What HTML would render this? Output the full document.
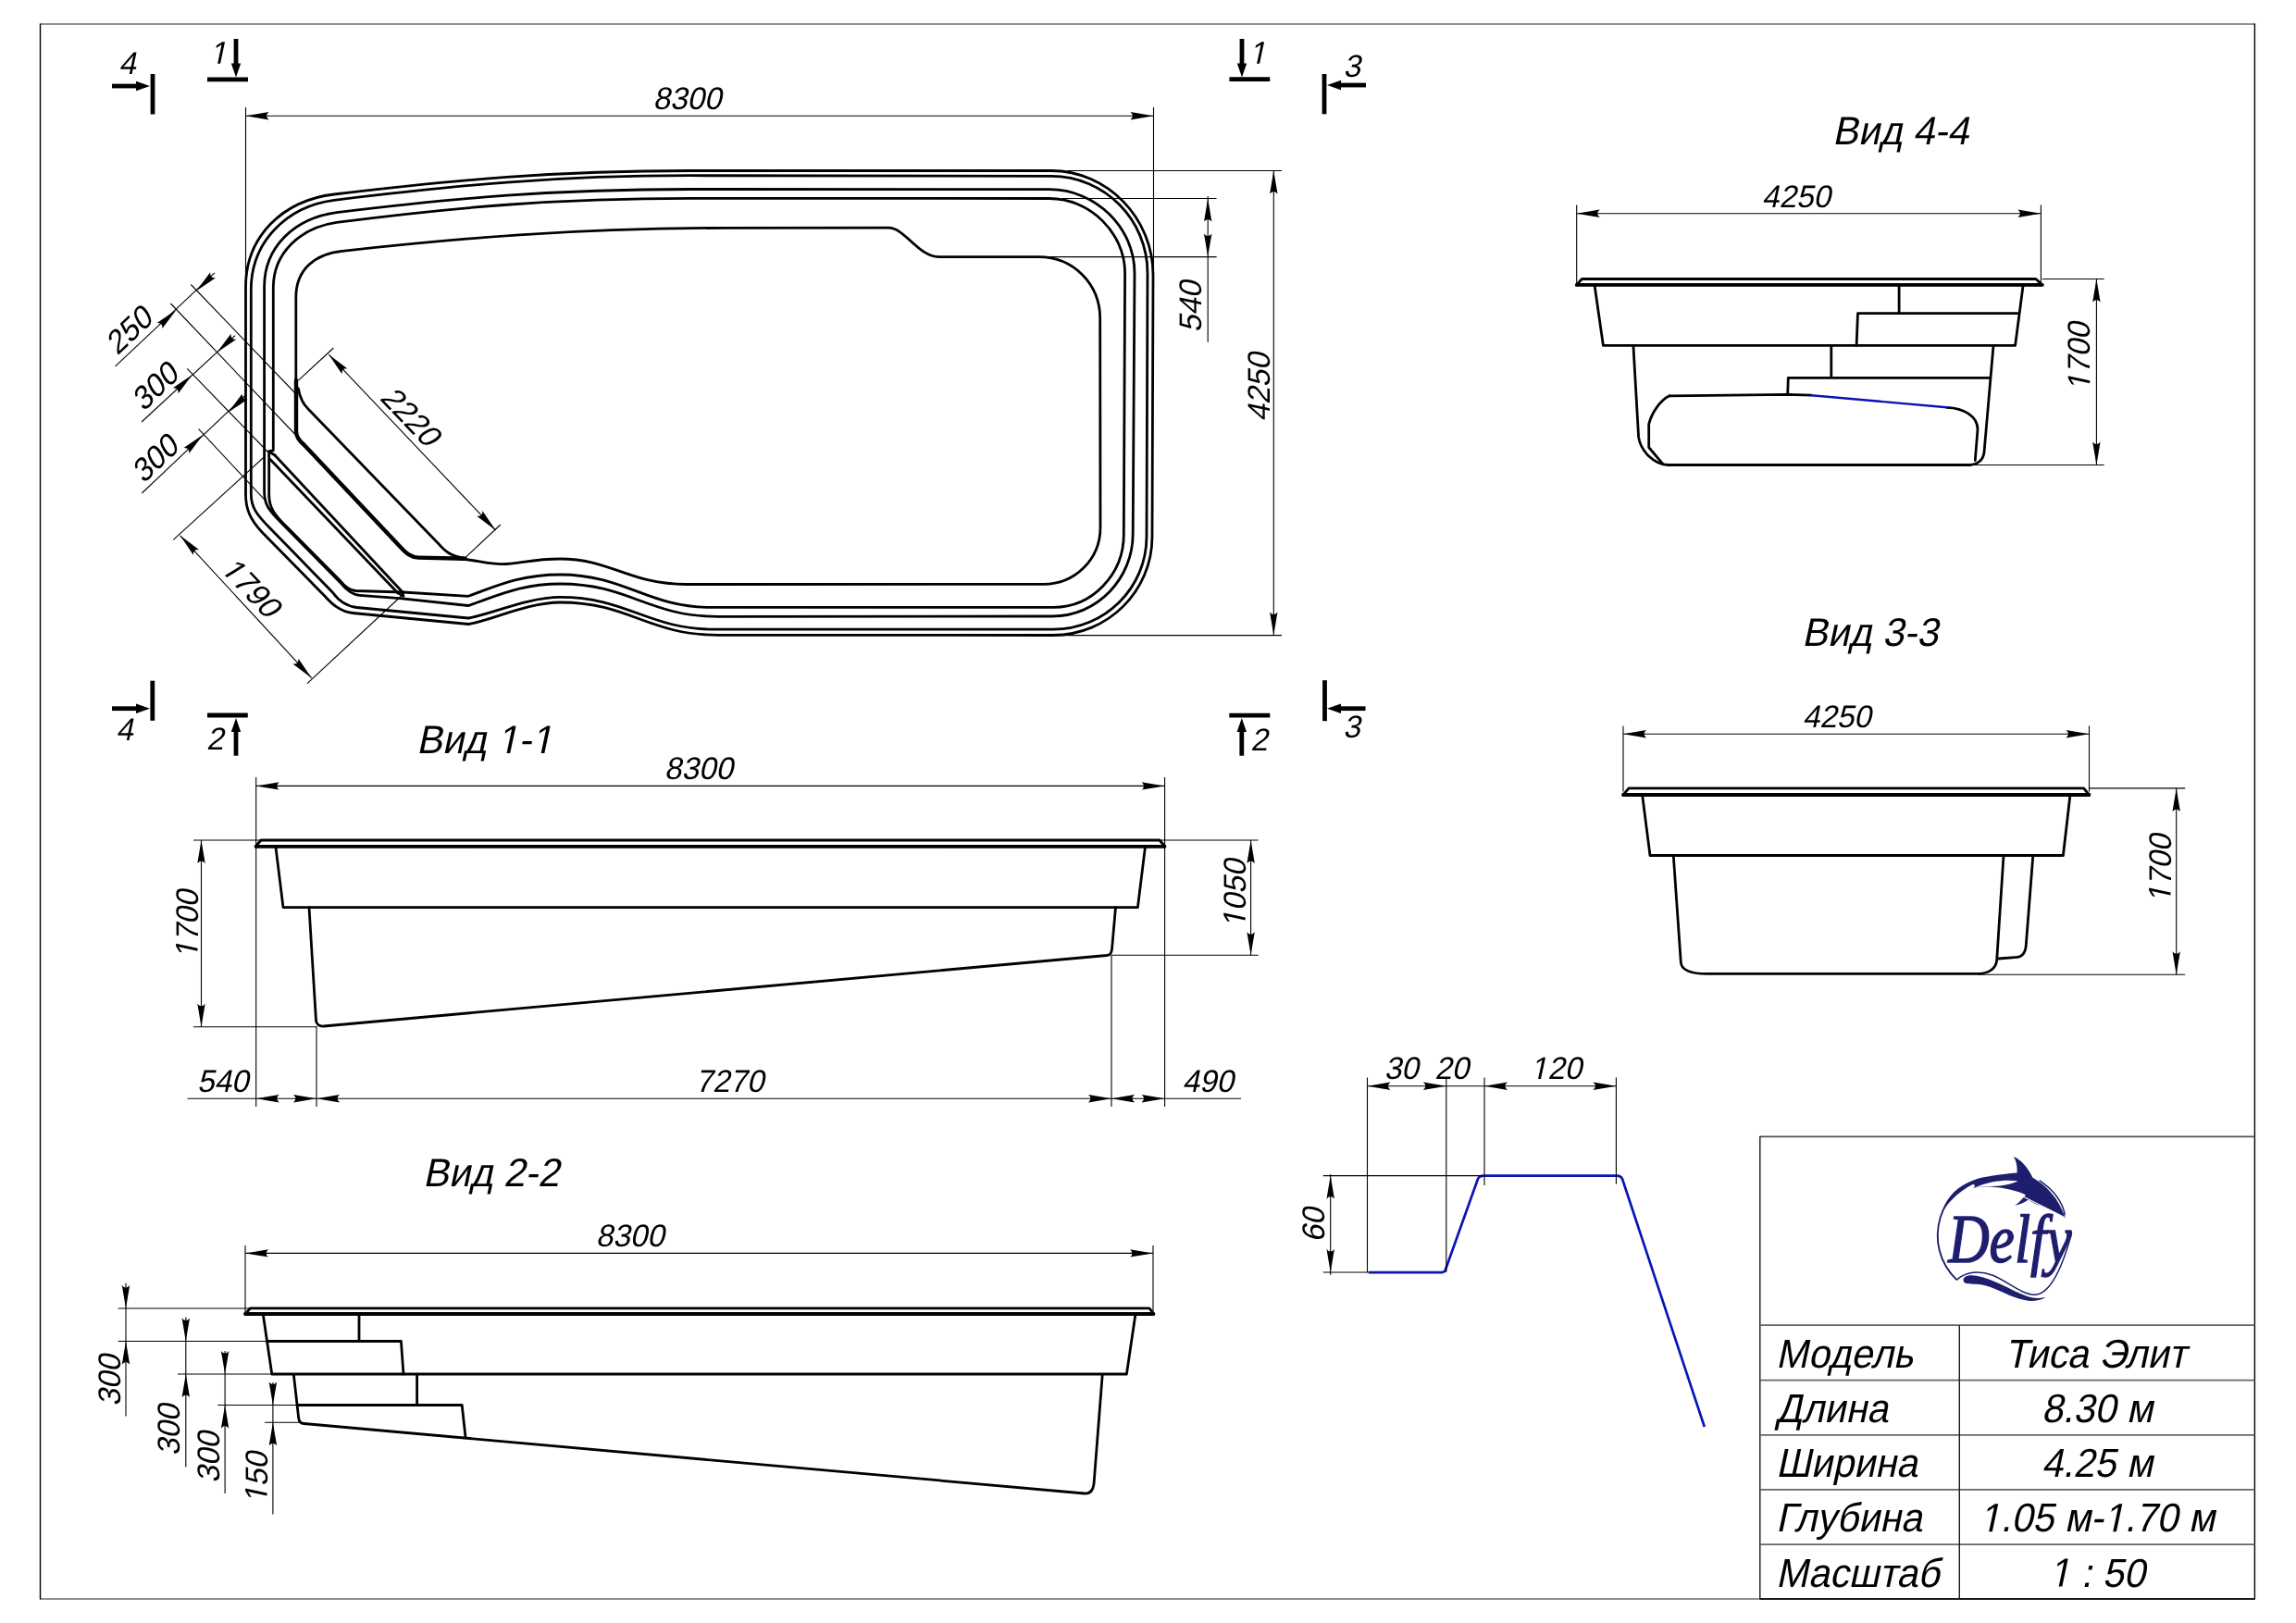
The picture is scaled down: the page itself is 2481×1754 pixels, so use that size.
<!DOCTYPE html>
<html><head><meta charset="utf-8"><style>
html,body{margin:0;padding:0;background:#fff;}
svg{display:block;will-change:transform;}
text{font-family:"Liberation Sans",sans-serif;}
</style></head><body>
<svg width="2481" height="1754" viewBox="0 0 2481 1754">
<rect width="2481" height="1754" fill="#fff"/>
<line x1="43.5" y1="26" x2="2436.4" y2="26" stroke="#6a6a6a" stroke-width="1.6" stroke-linecap="butt"/>
<line x1="43.5" y1="1728" x2="2436.4" y2="1728" stroke="#6a6a6a" stroke-width="1.6" stroke-linecap="butt"/>
<line x1="43.5" y1="25.5" x2="43.5" y2="1728.5" stroke="#000" stroke-width="1.4" stroke-linecap="butt"/>
<line x1="2436.4" y1="25.5" x2="2436.4" y2="1728.5" stroke="#000" stroke-width="1.4" stroke-linecap="butt"/>
<line x1="165" y1="80" x2="165" y2="123.5" stroke="#000" stroke-width="4.8" stroke-linecap="butt"/>
<line x1="121" y1="93" x2="150" y2="93" stroke="#000" stroke-width="4.8" stroke-linecap="butt"/>
<path d="M162,93 L147,98.2 L147,87.8 Z" fill="#000"/>
<g transform="translate(140,68) translate(-2.5,11.7) skewX(-12) scale(0.98,1)" fill="#000"><text x="-9.5" y="0" font-size="34">4</text></g>
<line x1="224" y1="85.8" x2="268" y2="85.8" stroke="#000" stroke-width="4.8" stroke-linecap="butt"/>
<line x1="255" y1="42" x2="255" y2="71.5" stroke="#000" stroke-width="4.8" stroke-linecap="butt"/>
<path d="M255,83.5 L249.8,68.5 L260.2,68.5 Z" fill="#000"/>
<g transform="translate(238.5,57) translate(-2.5,11.7) skewX(-12) scale(0.98,1)" fill="#000"><text x="-9.5" y="0" font-size="34"> </text><path transform="translate(-9.45,0) scale(0.01660,-0.01660)" d="M696,0 H515 V1237 L197,1010 V1180 L530,1409 H696 Z"/></g>
<line x1="1328.4" y1="85.7" x2="1372.2" y2="85.7" stroke="#000" stroke-width="4.8" stroke-linecap="butt"/>
<line x1="1342" y1="42" x2="1342" y2="71.5" stroke="#000" stroke-width="4.8" stroke-linecap="butt"/>
<path d="M1342,83.5 L1336.8,68.5 L1347.2,68.5 Z" fill="#000"/>
<g transform="translate(1361.5,57) translate(-2.5,11.7) skewX(-12) scale(0.98,1)" fill="#000"><text x="-9.5" y="0" font-size="34"> </text><path transform="translate(-9.45,0) scale(0.01660,-0.01660)" d="M696,0 H515 V1237 L197,1010 V1180 L530,1409 H696 Z"/></g>
<line x1="1431" y1="80" x2="1431" y2="123.3" stroke="#000" stroke-width="4.8" stroke-linecap="butt"/>
<line x1="1476" y1="92" x2="1446" y2="92" stroke="#000" stroke-width="4.8" stroke-linecap="butt"/>
<path d="M1434,92 L1449,86.8 L1449,97.2 Z" fill="#000"/>
<g transform="translate(1463.4,71.2) translate(-2.5,11.7) skewX(-12) scale(0.98,1)" fill="#000"><text x="-9.5" y="0" font-size="34">3</text></g>
<line x1="164.8" y1="735.7" x2="164.8" y2="778.8" stroke="#000" stroke-width="4.8" stroke-linecap="butt"/>
<line x1="121" y1="765.7" x2="150" y2="765.7" stroke="#000" stroke-width="4.8" stroke-linecap="butt"/>
<path d="M162,765.7 L147,770.9 L147,760.5 Z" fill="#000"/>
<g transform="translate(137,788) translate(-2.5,11.7) skewX(-12) scale(0.98,1)" fill="#000"><text x="-9.5" y="0" font-size="34">4</text></g>
<line x1="224" y1="773" x2="267.8" y2="773" stroke="#000" stroke-width="4.8" stroke-linecap="butt"/>
<line x1="255" y1="816.7" x2="255" y2="788" stroke="#000" stroke-width="4.8" stroke-linecap="butt"/>
<path d="M255,776 L260.2,791 L249.8,791 Z" fill="#000"/>
<g transform="translate(234.9,798.3) translate(-2.5,11.7) skewX(-12) scale(0.98,1)" fill="#000"><text x="-9.5" y="0" font-size="34">2</text></g>
<line x1="1328.3" y1="773.1" x2="1372.3" y2="773.1" stroke="#000" stroke-width="4.8" stroke-linecap="butt"/>
<line x1="1341.8" y1="816.7" x2="1341.8" y2="788" stroke="#000" stroke-width="4.8" stroke-linecap="butt"/>
<path d="M1341.8,776 L1347,791 L1336.6,791 Z" fill="#000"/>
<g transform="translate(1363,799.2) translate(-2.5,11.7) skewX(-12) scale(0.98,1)" fill="#000"><text x="-9.5" y="0" font-size="34">2</text></g>
<line x1="1431.5" y1="735.2" x2="1431.5" y2="779.2" stroke="#000" stroke-width="4.8" stroke-linecap="butt"/>
<line x1="1475.5" y1="765.7" x2="1446" y2="765.7" stroke="#000" stroke-width="4.8" stroke-linecap="butt"/>
<path d="M1434,765.7 L1449,760.5 L1449,770.9 Z" fill="#000"/>
<g transform="translate(1463,785.3) translate(-2.5,11.7) skewX(-12) scale(0.98,1)" fill="#000"><text x="-9.5" y="0" font-size="34">3</text></g>
<path d="M265.5,310 C265.5,255 306,216.6 361,210 C491,194.4 600,184.5 746,184.5 L1136,184.5 C1197,184.5 1246,236 1246,297 L1245,580 C1245,639 1197,686.5 1138,686.5 L776,686.3 C700,686.3 680,651 605.4,651 C570,651 530,671 506,674.5 L381,662.5 C367,661 358,652 351,644.2 L283,575 C270,561 265.5,550 265.5,534 Z" fill="none" stroke="#000" stroke-width="2.8" stroke-linejoin="round" stroke-linecap="round"/>
<path d="M271.3,313 C271.3,261 310,223 361,216.3 C491,200.5 600,189.7 746,189.7 L1136,190.4 C1194,190.4 1240,238 1240,295 L1239,580 C1239,635 1194,680.2 1138,680.2 L773,680.2 C700,680.2 678,645.4 605.4,645.4 C570,645.4 530,664 506,668 L385.6,656.5 C373,655 365,648 359.7,640.5 L292,571 C277,556 271.3,548 271.3,534 Z" fill="none" stroke="#000" stroke-width="2.8" stroke-linejoin="round" stroke-linecap="round"/>
<path d="M285.6,310 C285.6,267 318,236 363.7,229.7 C491,214 600,204.5 746,204.5 L1134,204.7 C1184,204.7 1226,246 1226,295 L1224.2,577 C1224.2,625 1186,666 1137,666 L776,666.3 C700,666.3 680,631 605.4,631 C562,631 535,645 506,654.5 L432,646.6 L388.5,643.3 C380,642.5 374,637 369.6,631.6 L305,566 C290,551 285.6,545 285.6,531.6 Z" fill="none" stroke="#000" stroke-width="2.8" stroke-linejoin="round" stroke-linecap="round"/>
<path d="M295.3,311 C295.3,273 325,246 363.7,240.4 C491,224 600,214.4 746,214.4 L1134,214.5 C1178,214.5 1215.6,252 1215.6,295 L1214.3,577.6 C1214.3,621 1180,656.4 1138.4,656.4 L767.5,656.4 C700,656.4 675,621 605.4,621 C560,621 535,634 506,644.3 L436,640 L384,638.5 C377,637.5 372,633 368,628 L310.5,570 C296,556 290.7,548 290.7,534.7 L290.7,487.6 L295.3,486.8 Z" fill="none" stroke="#000" stroke-width="2.8" stroke-linejoin="round" stroke-linecap="round"/>
<path d="M319.8,411 L319.8,321 C319.8,292 340,274 370,271.3 C491,258 620,246.4 786,246.4 L960,246.2 C978,246.2 992,277.6 1014.7,277.6 L1122.5,277.6 C1160,277.6 1188.7,307 1188.7,344.2 L1189,570 C1189,605 1161,631.4 1127.7,631.4 L741.3,631.5 C680,631.5 660,604 605.4,604 C575,604 560,609.7 542.7,609.7 C525,609.7 515,605 496,604" fill="none" stroke="#000" stroke-width="2.8" stroke-linejoin="round" stroke-linecap="round"/>
<path d="M320,411 L320,466.5 C320,472 323,476 328.8,481 L433,591.5 C439,598 444,602.4 452.2,602.6 L502.7,603.8" fill="none" stroke="#000" stroke-width="4.4" stroke-linejoin="round" stroke-linecap="round"/>
<path d="M322.4,420 C324,430 327,436 333,442 L473,586.7 C480,595 486,601 502.7,603.5" fill="none" stroke="#000" stroke-width="2.8" stroke-linejoin="round" stroke-linecap="round"/>
<path d="M292,496.5 L430,641" fill="none" stroke="#000" stroke-width="2.8" stroke-linejoin="round" stroke-linecap="round"/>
<path d="M297,492 L435,640" fill="none" stroke="#000" stroke-width="2.8" stroke-linejoin="round" stroke-linecap="round"/>
<path d="M290.7,488 L297,492" fill="none" stroke="#000" stroke-width="2.8" stroke-linejoin="round" stroke-linecap="round"/>
<path d="M430,641 L436,644.5 L435,640" fill="none" stroke="#000" stroke-width="2.6" stroke-linejoin="round" stroke-linecap="round"/>
<line x1="265.5" y1="116" x2="265.5" y2="300" stroke="#000" stroke-width="1.1" stroke-linecap="butt"/>
<line x1="1246.5" y1="116" x2="1246.5" y2="290" stroke="#000" stroke-width="1.1" stroke-linecap="butt"/>
<line x1="265.5" y1="125.3" x2="1246.5" y2="125.3" stroke="#000" stroke-width="1.1" stroke-linecap="butt"/>
<path d="M265.5,125.3 L290.5,121.1 Q285.5,125.3 290.5,129.5 Z" fill="#000"/>
<path d="M1246.5,125.3 L1221.5,129.5 Q1226.5,125.3 1221.5,121.1 Z" fill="#000"/>
<g transform="translate(745,106.5) translate(-2.5,11.7) skewX(-12) scale(0.98,1)" fill="#000"><text x="-37.8" y="0" font-size="34">8300</text></g>
<line x1="1153" y1="184.5" x2="1385" y2="184.5" stroke="#000" stroke-width="1.1" stroke-linecap="butt"/>
<line x1="1140" y1="686.6" x2="1385" y2="686.6" stroke="#000" stroke-width="1.1" stroke-linecap="butt"/>
<line x1="1376.3" y1="184.5" x2="1376.3" y2="686.6" stroke="#000" stroke-width="1.1" stroke-linecap="butt"/>
<path d="M1376.3,184.5 L1380.5,209.5 Q1376.3,204.5 1372.1,209.5 Z" fill="#000"/>
<path d="M1376.3,686.6 L1372.1,661.6 Q1376.3,666.6 1380.5,661.6 Z" fill="#000"/>
<g transform="translate(1360,416) rotate(-90) translate(-2.5,11.7) skewX(-12) scale(0.98,1)" fill="#000"><text x="-37.8" y="0" font-size="34">4250</text></g>
<line x1="1148" y1="214.5" x2="1314.6" y2="214.5" stroke="#000" stroke-width="1.1" stroke-linecap="butt"/>
<line x1="1122" y1="277.6" x2="1314.6" y2="277.6" stroke="#000" stroke-width="1.1" stroke-linecap="butt"/>
<line x1="1305.2" y1="212" x2="1305.2" y2="369.7" stroke="#000" stroke-width="1.1" stroke-linecap="butt"/>
<path d="M1305.2,214.5 L1309.4,239.5 Q1305.2,234.5 1301,239.5 Z" fill="#000"/>
<path d="M1305.2,277.6 L1301,252.6 Q1305.2,257.6 1309.4,252.6 Z" fill="#000"/>
<g transform="translate(1286.5,329) rotate(-90) translate(-2.5,11.7) skewX(-12) scale(0.98,1)" fill="#000"><text x="-28.4" y="0" font-size="34">540</text></g>
<line x1="206.3" y1="307.5" x2="322" y2="428" stroke="#000" stroke-width="1.1" stroke-linecap="butt"/>
<line x1="184.4" y1="328" x2="320.4" y2="471" stroke="#000" stroke-width="1.1" stroke-linecap="butt"/>
<line x1="202.3" y1="398.3" x2="290" y2="489" stroke="#000" stroke-width="1.1" stroke-linecap="butt"/>
<line x1="214.6" y1="463.6" x2="285.5" y2="539.6" stroke="#000" stroke-width="1.1" stroke-linecap="butt"/>
<line x1="124.6" y1="395.8" x2="231.9" y2="294.8" stroke="#000" stroke-width="1.1" stroke-linecap="butt"/>
<path d="M190.6,334.8 L175.4,355.1 Q176.1,348.6 169.6,349 Z" fill="#000"/>
<path d="M212,314.5 L227.2,294.2 Q226.5,300.7 233,300.3 Z" fill="#000"/>
<g transform="translate(140.7,355.4) rotate(-43.6) translate(-2.5,11.7) skewX(-12) scale(0.98,1)" fill="#000"><text x="-28.4" y="0" font-size="34">250</text></g>
<line x1="153" y1="456" x2="254" y2="362.6" stroke="#000" stroke-width="1.1" stroke-linecap="butt"/>
<path d="M207.8,405 L192.6,425.3 Q193.3,418.8 186.8,419.2 Z" fill="#000"/>
<path d="M234.3,381 L249.5,360.7 Q248.8,367.2 255.3,366.8 Z" fill="#000"/>
<g transform="translate(168.8,416) rotate(-43.6) translate(-2.5,11.7) skewX(-12) scale(0.98,1)" fill="#000"><text x="-28.4" y="0" font-size="34">300</text></g>
<line x1="153.3" y1="533" x2="264.2" y2="428" stroke="#000" stroke-width="1.1" stroke-linecap="butt"/>
<path d="M219.5,469.8 L204.3,490.1 Q205,483.6 198.5,484 Z" fill="#000"/>
<path d="M246.6,445.7 L261.8,425.4 Q261.1,431.9 267.6,431.5 Z" fill="#000"/>
<g transform="translate(168.8,493.8) rotate(-43.6) translate(-2.5,11.7) skewX(-12) scale(0.98,1)" fill="#000"><text x="-28.4" y="0" font-size="34">300</text></g>
<line x1="187.3" y1="583.3" x2="286.4" y2="493" stroke="#000" stroke-width="1.1" stroke-linecap="butt"/>
<line x1="332" y1="738.6" x2="433.7" y2="644" stroke="#000" stroke-width="1.1" stroke-linecap="butt"/>
<line x1="194.7" y1="578.8" x2="336.7" y2="732.7" stroke="#000" stroke-width="1.1" stroke-linecap="butt"/>
<path d="M194.7,578.8 L215,594 Q208.5,593.3 208.9,599.8 Z" fill="#000"/>
<path d="M336.7,732.7 L316.4,717.5 Q322.9,718.2 322.5,711.7 Z" fill="#000"/>
<g transform="translate(273,636.5) rotate(46.4) translate(-2.5,11.7) skewX(-12) scale(0.98,1)" fill="#000"><text x="-37.8" y="0" font-size="34"> 790</text><path transform="translate(-37.82,0) scale(0.01660,-0.01660)" d="M696,0 H515 V1237 L197,1010 V1180 L530,1409 H696 Z"/></g>
<line x1="322.4" y1="411.2" x2="360.4" y2="376" stroke="#000" stroke-width="1.1" stroke-linecap="butt"/>
<line x1="502.7" y1="602.7" x2="540.8" y2="567" stroke="#000" stroke-width="1.1" stroke-linecap="butt"/>
<line x1="355.3" y1="383.2" x2="535.5" y2="573" stroke="#000" stroke-width="1.1" stroke-linecap="butt"/>
<path d="M355.3,383.2 L375.6,398.4 Q369.1,397.7 369.5,404.2 Z" fill="#000"/>
<path d="M535.5,573 L515.2,557.8 Q521.7,558.5 521.3,552 Z" fill="#000"/>
<g transform="translate(445.3,451.5) rotate(46.4) translate(-2.5,11.7) skewX(-12) scale(0.98,1)" fill="#000"><text x="-37.8" y="0" font-size="34">2220</text></g>
<g transform="translate(450,814) skewX(-12) scale(0.97,1)"><text x="0" y="0" font-size="43">Вид  - </text><path transform="translate(89.74,0) scale(0.02100,-0.02100)" d="M696,0 H515 V1237 L197,1010 V1180 L530,1409 H696 Z"/><path transform="translate(127.97,0) scale(0.02100,-0.02100)" d="M696,0 H515 V1237 L197,1010 V1180 L530,1409 H696 Z"/></g>
<line x1="276.7" y1="840" x2="276.7" y2="1196" stroke="#000" stroke-width="1.1" stroke-linecap="butt"/>
<line x1="1258.6" y1="840" x2="1258.6" y2="1196" stroke="#000" stroke-width="1.1" stroke-linecap="butt"/>
<line x1="276.7" y1="849.4" x2="1258.6" y2="849.4" stroke="#000" stroke-width="1.1" stroke-linecap="butt"/>
<path d="M276.7,849.4 L301.7,845.2 Q296.7,849.4 301.7,853.6 Z" fill="#000"/>
<path d="M1258.6,849.4 L1233.6,853.6 Q1238.6,849.4 1233.6,845.2 Z" fill="#000"/>
<g transform="translate(757.4,830.5) translate(-2.5,11.7) skewX(-12) scale(0.98,1)" fill="#000"><text x="-37.8" y="0" font-size="34">8300</text></g>
<path d="M276.5,914.5 L282,908 L1253,908 L1258.5,914.5 Z" fill="none" stroke="#000" stroke-width="2.8" stroke-linejoin="round" stroke-linecap="round"/>
<path d="M276.5,914.8 L1258.5,914.8" fill="none" stroke="#000" stroke-width="3.8" stroke-linejoin="round" stroke-linecap="round"/>
<path d="M298,915.8 L306,980.7 L1229.4,980.7 L1237.4,915.8" fill="none" stroke="#000" stroke-width="2.8" stroke-linejoin="round" stroke-linecap="round"/>
<path d="M334,980.7 L341.5,1103 C342,1107 345,1109.5 349.9,1109 L1196,1032.5 C1200,1032 1201,1030 1201.5,1026 L1205.5,980.7" fill="none" stroke="#000" stroke-width="2.8" stroke-linejoin="round" stroke-linecap="round"/>
<line x1="209" y1="908" x2="282" y2="908" stroke="#000" stroke-width="1.1" stroke-linecap="butt"/>
<line x1="209" y1="1109.8" x2="342" y2="1109.8" stroke="#000" stroke-width="1.1" stroke-linecap="butt"/>
<line x1="217.5" y1="908" x2="217.5" y2="1109.8" stroke="#000" stroke-width="1.1" stroke-linecap="butt"/>
<path d="M217.5,908 L221.7,933 Q217.5,928 213.3,933 Z" fill="#000"/>
<path d="M217.5,1109.8 L213.3,1084.8 Q217.5,1089.8 221.7,1084.8 Z" fill="#000"/>
<g transform="translate(201.8,996.5) rotate(-90) translate(-2.5,11.7) skewX(-12) scale(0.98,1)" fill="#000"><text x="-37.8" y="0" font-size="34"> 700</text><path transform="translate(-37.82,0) scale(0.01660,-0.01660)" d="M696,0 H515 V1237 L197,1010 V1180 L530,1409 H696 Z"/></g>
<line x1="1253" y1="908" x2="1359.6" y2="908" stroke="#000" stroke-width="1.1" stroke-linecap="butt"/>
<line x1="1201" y1="1032.2" x2="1359.6" y2="1032.2" stroke="#000" stroke-width="1.1" stroke-linecap="butt"/>
<line x1="1351.6" y1="908" x2="1351.6" y2="1032.2" stroke="#000" stroke-width="1.1" stroke-linecap="butt"/>
<path d="M1351.6,908 L1355.8,933 Q1351.6,928 1347.4,933 Z" fill="#000"/>
<path d="M1351.6,1032.2 L1347.4,1007.2 Q1351.6,1012.2 1355.8,1007.2 Z" fill="#000"/>
<g transform="translate(1334,963.3) rotate(-90) translate(-2.5,11.7) skewX(-12) scale(0.98,1)" fill="#000"><text x="-37.8" y="0" font-size="34"> 050</text><path transform="translate(-37.82,0) scale(0.01660,-0.01660)" d="M696,0 H515 V1237 L197,1010 V1180 L530,1409 H696 Z"/></g>
<line x1="342" y1="1109" x2="342" y2="1196" stroke="#000" stroke-width="1.1" stroke-linecap="butt"/>
<line x1="1201" y1="1032" x2="1201" y2="1196" stroke="#000" stroke-width="1.1" stroke-linecap="butt"/>
<line x1="202.5" y1="1187.2" x2="1341" y2="1187.2" stroke="#000" stroke-width="1.1" stroke-linecap="butt"/>
<path d="M276.7,1187.2 L301.7,1183 Q296.7,1187.2 301.7,1191.4 Z" fill="#000"/>
<path d="M342,1187.2 L317,1191.4 Q322,1187.2 317,1183 Z" fill="#000"/>
<path d="M342,1187.2 L367,1183 Q362,1187.2 367,1191.4 Z" fill="#000"/>
<path d="M1201,1187.2 L1176,1191.4 Q1181,1187.2 1176,1183 Z" fill="#000"/>
<path d="M1201,1187.2 L1226,1183 Q1221,1187.2 1226,1191.4 Z" fill="#000"/>
<path d="M1258.6,1187.2 L1233.6,1191.4 Q1238.6,1187.2 1233.6,1183 Z" fill="#000"/>
<g transform="translate(243.4,1168.2) translate(-2.5,11.7) skewX(-12) scale(0.98,1)" fill="#000"><text x="-28.4" y="0" font-size="34">540</text></g>
<g transform="translate(791,1168.2) translate(-2.5,11.7) skewX(-12) scale(0.98,1)" fill="#000"><text x="-37.8" y="0" font-size="34">7270</text></g>
<g transform="translate(1307.8,1168.2) translate(-2.5,11.7) skewX(-12) scale(0.98,1)" fill="#000"><text x="-28.4" y="0" font-size="34">490</text></g>
<g transform="translate(457,1282) skewX(-12) scale(0.97,1)"><text x="0" y="0" font-size="43">Вид 2-2</text></g>
<line x1="265" y1="1346" x2="265" y2="1420" stroke="#000" stroke-width="1.1" stroke-linecap="butt"/>
<line x1="1246" y1="1346" x2="1246" y2="1420" stroke="#000" stroke-width="1.1" stroke-linecap="butt"/>
<line x1="265" y1="1354.4" x2="1246" y2="1354.4" stroke="#000" stroke-width="1.1" stroke-linecap="butt"/>
<path d="M265,1354.4 L290,1350.2 Q285,1354.4 290,1358.6 Z" fill="#000"/>
<path d="M1246,1354.4 L1221,1358.6 Q1226,1354.4 1221,1350.2 Z" fill="#000"/>
<g transform="translate(683.2,1335) translate(-2.5,11.7) skewX(-12) scale(0.98,1)" fill="#000"><text x="-37.8" y="0" font-size="34">8300</text></g>
<path d="M265,1420 L270.5,1413.8 L1242,1413.8 L1246.5,1420 Z" fill="none" stroke="#000" stroke-width="2.8" stroke-linejoin="round" stroke-linecap="round"/>
<path d="M265,1420 L1246.5,1420" fill="none" stroke="#000" stroke-width="3.8" stroke-linejoin="round" stroke-linecap="round"/>
<path d="M284.4,1421.3 L293.8,1485 L1217.4,1485 L1226.8,1421.3" fill="none" stroke="#000" stroke-width="2.8" stroke-linejoin="round" stroke-linecap="round"/>
<path d="M388,1421.3 L388,1449.5 M288.6,1449.5 L433.4,1449.5 L436,1485" fill="none" stroke="#000" stroke-width="2.8" stroke-linejoin="round" stroke-linecap="round"/>
<path d="M317.4,1486 L322.6,1532 C323,1536 325,1538.5 328.5,1538.5 L1172,1614 C1178,1614.5 1181,1611 1182,1604 L1191.2,1486" fill="none" stroke="#000" stroke-width="2.8" stroke-linejoin="round" stroke-linecap="round"/>
<path d="M450.6,1486 L450.6,1518.5 M322,1518.5 L499.2,1518.5 L503,1553" fill="none" stroke="#000" stroke-width="2.8" stroke-linejoin="round" stroke-linecap="round"/>
<line x1="127.6" y1="1414" x2="270" y2="1414" stroke="#000" stroke-width="1.1" stroke-linecap="butt"/>
<line x1="127.6" y1="1449.5" x2="290" y2="1449.5" stroke="#000" stroke-width="1.1" stroke-linecap="butt"/>
<line x1="192" y1="1485" x2="294" y2="1485" stroke="#000" stroke-width="1.1" stroke-linecap="butt"/>
<line x1="235.3" y1="1518.5" x2="322" y2="1518.5" stroke="#000" stroke-width="1.1" stroke-linecap="butt"/>
<line x1="286" y1="1537.3" x2="327" y2="1537.3" stroke="#000" stroke-width="1.1" stroke-linecap="butt"/>
<line x1="136" y1="1386.8" x2="136" y2="1530.5" stroke="#000" stroke-width="1.1" stroke-linecap="butt"/>
<path d="M136,1414 L131.8,1389 Q136,1394 140.2,1389 Z" fill="#000"/>
<path d="M136,1449.5 L140.2,1474.5 Q136,1469.5 131.8,1474.5 Z" fill="#000"/>
<line x1="200.8" y1="1423.4" x2="200.8" y2="1585.4" stroke="#000" stroke-width="1.1" stroke-linecap="butt"/>
<path d="M200.8,1449.5 L196.6,1424.5 Q200.8,1429.5 205,1424.5 Z" fill="#000"/>
<path d="M200.8,1485 L205,1510 Q200.8,1505 196.6,1510 Z" fill="#000"/>
<line x1="243.1" y1="1460" x2="243.1" y2="1614" stroke="#000" stroke-width="1.1" stroke-linecap="butt"/>
<path d="M243.1,1485 L238.9,1460 Q243.1,1465 247.3,1460 Z" fill="#000"/>
<path d="M243.1,1518.5 L247.3,1543.5 Q243.1,1538.5 238.9,1543.5 Z" fill="#000"/>
<line x1="294.9" y1="1494" x2="294.9" y2="1636.6" stroke="#000" stroke-width="1.1" stroke-linecap="butt"/>
<path d="M294.9,1518.5 L290.7,1493.5 Q294.9,1498.5 299.1,1493.5 Z" fill="#000"/>
<path d="M294.9,1537.3 L299.1,1562.3 Q294.9,1557.3 290.7,1562.3 Z" fill="#000"/>
<g transform="translate(118.2,1489.5) rotate(-90) translate(-2.5,11.7) skewX(-12) scale(0.98,1)" fill="#000"><text x="-28.4" y="0" font-size="34">300</text></g>
<g transform="translate(182,1543) rotate(-90) translate(-2.5,11.7) skewX(-12) scale(0.98,1)" fill="#000"><text x="-28.4" y="0" font-size="34">300</text></g>
<g transform="translate(225.1,1572.5) rotate(-90) translate(-2.5,11.7) skewX(-12) scale(0.98,1)" fill="#000"><text x="-28.4" y="0" font-size="34">300</text></g>
<g transform="translate(276.8,1594.5) rotate(-90) translate(-2.5,11.7) skewX(-12) scale(0.98,1)" fill="#000"><text x="-28.4" y="0" font-size="34"> 50</text><path transform="translate(-28.36,0) scale(0.01660,-0.01660)" d="M696,0 H515 V1237 L197,1010 V1180 L530,1409 H696 Z"/></g>
<g transform="translate(1980,156) skewX(-12) scale(0.97,1)"><text x="0" y="0" font-size="43">Вид 4-4</text></g>
<line x1="1703.7" y1="221.5" x2="1703.7" y2="306.5" stroke="#000" stroke-width="1.1" stroke-linecap="butt"/>
<line x1="2205.4" y1="221.5" x2="2205.4" y2="306.5" stroke="#000" stroke-width="1.1" stroke-linecap="butt"/>
<line x1="1703.7" y1="230.7" x2="2205.4" y2="230.7" stroke="#000" stroke-width="1.1" stroke-linecap="butt"/>
<path d="M1703.7,230.7 L1728.7,226.5 Q1723.7,230.7 1728.7,234.9 Z" fill="#000"/>
<path d="M2205.4,230.7 L2180.4,234.9 Q2185.4,230.7 2180.4,226.5 Z" fill="#000"/>
<g transform="translate(1943.4,211.8) translate(-2.5,11.7) skewX(-12) scale(0.98,1)" fill="#000"><text x="-37.8" y="0" font-size="34">4250</text></g>
<path d="M1703.7,307.9 L1709.3,301.5 L2199.9,301.5 L2206.8,307.9 Z" fill="none" stroke="#000" stroke-width="2.8" stroke-linejoin="round" stroke-linecap="round"/>
<path d="M1703.7,307.9 L2206.8,307.9" fill="none" stroke="#000" stroke-width="3.8" stroke-linejoin="round" stroke-linecap="round"/>
<path d="M1723.2,309.3 L1732.4,373.4 L2177.6,373.4 L2186,309.3" fill="none" stroke="#000" stroke-width="2.8" stroke-linejoin="round" stroke-linecap="round"/>
<path d="M2052.1,309.3 L2052.1,338.6 M2006.1,373.4 L2007.5,338.6 L2180.3,338.6" fill="none" stroke="#000" stroke-width="2.8" stroke-linejoin="round" stroke-linecap="round"/>
<path d="M1765,374.8 L1770.6,472.4 C1773,488 1788,502.5 1802.6,502.5 L2128.8,502.5 C2137,502 2143,497 2144,489 L2153.9,374.8" fill="none" stroke="#000" stroke-width="2.8" stroke-linejoin="round" stroke-linecap="round"/>
<path d="M1978.8,374.8 L1978.8,408.3 M1931.7,426.4 L1932.3,408.3 L2149.7,408.3" fill="none" stroke="#000" stroke-width="2.8" stroke-linejoin="round" stroke-linecap="round"/>
<path d="M1804,427.8 L1931.7,426.4 L1957.4,427.2" fill="none" stroke="#000" stroke-width="2.8" stroke-linejoin="round" stroke-linecap="round"/>
<path d="M2103.7,440.3 C2122,441 2137,450 2137,464 L2134.3,497.5" fill="none" stroke="#000" stroke-width="2.8" stroke-linejoin="round" stroke-linecap="round"/>
<path d="M1804,427.8 C1795,432 1785,445 1781.7,458.4 L1781.7,483.5 L1797,501.6" fill="none" stroke="#000" stroke-width="2.8" stroke-linejoin="round" stroke-linecap="round"/>
<path d="M1957.4,427.2 L2103.7,440.3" fill="none" stroke="#0a14b4" stroke-width="2.4" stroke-linejoin="round" stroke-linecap="round"/>
<line x1="2206.8" y1="301.5" x2="2273.7" y2="301.5" stroke="#000" stroke-width="1.1" stroke-linecap="butt"/>
<line x1="2128.8" y1="502.5" x2="2273.7" y2="502.5" stroke="#000" stroke-width="1.1" stroke-linecap="butt"/>
<line x1="2265.4" y1="301.5" x2="2265.4" y2="502.5" stroke="#000" stroke-width="1.1" stroke-linecap="butt"/>
<path d="M2265.4,301.5 L2269.6,326.5 Q2265.4,321.5 2261.2,326.5 Z" fill="#000"/>
<path d="M2265.4,502.5 L2261.2,477.5 Q2265.4,482.5 2269.6,477.5 Z" fill="#000"/>
<g transform="translate(2246.5,383) rotate(-90) translate(-2.5,11.7) skewX(-12) scale(0.98,1)" fill="#000"><text x="-37.8" y="0" font-size="34"> 700</text><path transform="translate(-37.82,0) scale(0.01660,-0.01660)" d="M696,0 H515 V1237 L197,1010 V1180 L530,1409 H696 Z"/></g>
<g transform="translate(1947,698) skewX(-12) scale(0.97,1)"><text x="0" y="0" font-size="43">Вид 3-3</text></g>
<line x1="1754" y1="784.4" x2="1754" y2="855.5" stroke="#000" stroke-width="1.1" stroke-linecap="butt"/>
<line x1="2257.5" y1="784.4" x2="2257.5" y2="855.5" stroke="#000" stroke-width="1.1" stroke-linecap="butt"/>
<line x1="1754" y1="793.3" x2="2257.5" y2="793.3" stroke="#000" stroke-width="1.1" stroke-linecap="butt"/>
<path d="M1754,793.3 L1779,789.1 Q1774,793.3 1779,797.5 Z" fill="#000"/>
<path d="M2257.5,793.3 L2232.5,797.5 Q2237.5,793.3 2232.5,789.1 Z" fill="#000"/>
<g transform="translate(1987.3,774) translate(-2.5,11.7) skewX(-12) scale(0.98,1)" fill="#000"><text x="-37.8" y="0" font-size="34">4250</text></g>
<path d="M1754,859 L1760,851.9 L2251.6,851.9 L2257.5,859 Z" fill="none" stroke="#000" stroke-width="2.8" stroke-linejoin="round" stroke-linecap="round"/>
<path d="M1754,859 L2257.5,859" fill="none" stroke="#000" stroke-width="3.8" stroke-linejoin="round" stroke-linecap="round"/>
<path d="M1774.8,860.5 L1783,924.5 L2229.4,924.5 L2236.8,860.5" fill="none" stroke="#000" stroke-width="2.8" stroke-linejoin="round" stroke-linecap="round"/>
<path d="M1808.3,925 L1816.3,1040 C1817,1049 1828,1052.4 1844.4,1052.4 L2137.6,1052.4 C2150,1052 2157,1046 2157.7,1037.6 L2165,925" fill="none" stroke="#000" stroke-width="2.8" stroke-linejoin="round" stroke-linecap="round"/>
<path d="M2196.8,925 L2189.4,1020 C2189,1030 2185,1034.6 2177.6,1034.6 L2159.8,1036" fill="none" stroke="#000" stroke-width="2.8" stroke-linejoin="round" stroke-linecap="round"/>
<line x1="2257.5" y1="851.9" x2="2361.2" y2="851.9" stroke="#000" stroke-width="1.1" stroke-linecap="butt"/>
<line x1="2137.6" y1="1053.3" x2="2361.2" y2="1053.3" stroke="#000" stroke-width="1.1" stroke-linecap="butt"/>
<line x1="2351.7" y1="851.9" x2="2351.7" y2="1053.3" stroke="#000" stroke-width="1.1" stroke-linecap="butt"/>
<path d="M2351.7,851.9 L2355.9,876.9 Q2351.7,871.9 2347.5,876.9 Z" fill="#000"/>
<path d="M2351.7,1053.3 L2347.5,1028.3 Q2351.7,1033.3 2355.9,1028.3 Z" fill="#000"/>
<g transform="translate(2333.8,936.2) rotate(-90) translate(-2.5,11.7) skewX(-12) scale(0.98,1)" fill="#000"><text x="-37.8" y="0" font-size="34"> 700</text><path transform="translate(-37.82,0) scale(0.01660,-0.01660)" d="M696,0 H515 V1237 L197,1010 V1180 L530,1409 H696 Z"/></g>
<path d="M1478.8,1375.1 L1558,1375.1 C1560,1375.1 1561.5,1374 1562,1372 L1597,1274 C1598,1271.5 1600,1270.6 1603,1270.6 L1748,1270.6 C1750.5,1270.6 1752,1272 1753,1274 L1841.8,1542" fill="none" stroke="#0a14b4" stroke-width="2.7" stroke-linejoin="round" stroke-linecap="butt"/>
<line x1="1477.5" y1="1164.5" x2="1477.5" y2="1375" stroke="#000" stroke-width="1.1" stroke-linecap="butt"/>
<line x1="1562.8" y1="1164.5" x2="1562.8" y2="1375" stroke="#000" stroke-width="1.1" stroke-linecap="butt"/>
<line x1="1604" y1="1164.5" x2="1604" y2="1281" stroke="#000" stroke-width="1.1" stroke-linecap="butt"/>
<line x1="1746.4" y1="1164.5" x2="1746.4" y2="1279.7" stroke="#000" stroke-width="1.1" stroke-linecap="butt"/>
<line x1="1477.5" y1="1173.7" x2="1746.4" y2="1173.7" stroke="#000" stroke-width="1.1" stroke-linecap="butt"/>
<path d="M1477.5,1173.7 L1502.5,1169.5 Q1497.5,1173.7 1502.5,1177.9 Z" fill="#000"/>
<path d="M1562.8,1173.7 L1537.8,1177.9 Q1542.8,1173.7 1537.8,1169.5 Z" fill="#000"/>
<path d="M1604,1173.7 L1629,1169.5 Q1624,1173.7 1629,1177.9 Z" fill="#000"/>
<path d="M1746.4,1173.7 L1721.4,1177.9 Q1726.4,1173.7 1721.4,1169.5 Z" fill="#000"/>
<g transform="translate(1516.7,1154.4) translate(-2.5,11.7) skewX(-12) scale(0.98,1)" fill="#000"><text x="-18.9" y="0" font-size="34">30</text></g>
<g transform="translate(1571.2,1154.4) translate(-2.5,11.7) skewX(-12) scale(0.98,1)" fill="#000"><text x="-18.9" y="0" font-size="34">20</text></g>
<g transform="translate(1684,1154.4) translate(-2.5,11.7) skewX(-12) scale(0.98,1)" fill="#000"><text x="-28.4" y="0" font-size="34"> 20</text><path transform="translate(-28.36,0) scale(0.01660,-0.01660)" d="M696,0 H515 V1237 L197,1010 V1180 L530,1409 H696 Z"/></g>
<line x1="1429.8" y1="1270.6" x2="1602" y2="1270.6" stroke="#000" stroke-width="1.1" stroke-linecap="butt"/>
<line x1="1429.8" y1="1375" x2="1478.8" y2="1375" stroke="#000" stroke-width="1.1" stroke-linecap="butt"/>
<line x1="1437.7" y1="1269" x2="1437.7" y2="1377.8" stroke="#000" stroke-width="1.1" stroke-linecap="butt"/>
<path d="M1437.7,1270.6 L1441.9,1295.6 Q1437.7,1290.6 1433.5,1295.6 Z" fill="#000"/>
<path d="M1437.7,1375 L1433.5,1350 Q1437.7,1355 1441.9,1350 Z" fill="#000"/>
<g transform="translate(1419,1321.5) rotate(-90) translate(-2.5,11.7) skewX(-12) scale(0.98,1)" fill="#000"><text x="-18.9" y="0" font-size="34">60</text></g>
<line x1="1901.8" y1="1228.4" x2="2436.4" y2="1228.4" stroke="#555" stroke-width="1.7" stroke-linecap="butt"/>
<line x1="1901.8" y1="1228" x2="1901.8" y2="1728.5" stroke="#1a1a1a" stroke-width="1.4" stroke-linecap="butt"/>
<line x1="1901.8" y1="1432.2" x2="2436.4" y2="1432.2" stroke="#666" stroke-width="1.7" stroke-linecap="butt"/>
<line x1="1901.8" y1="1491.6" x2="2436.4" y2="1491.6" stroke="#666" stroke-width="1.7" stroke-linecap="butt"/>
<line x1="1901.8" y1="1550.9" x2="2436.4" y2="1550.9" stroke="#666" stroke-width="1.7" stroke-linecap="butt"/>
<line x1="1901.8" y1="1609.9" x2="2436.4" y2="1609.9" stroke="#666" stroke-width="1.7" stroke-linecap="butt"/>
<line x1="1901.8" y1="1669.2" x2="2436.4" y2="1669.2" stroke="#666" stroke-width="1.7" stroke-linecap="butt"/>
<line x1="2117.3" y1="1432.2" x2="2117.3" y2="1728" stroke="#1a1a1a" stroke-width="1.4" stroke-linecap="butt"/>
<line x1="1901.8" y1="1728" x2="2436.4" y2="1728" stroke="#1a1a1a" stroke-width="1.8" stroke-linecap="butt"/>
<g transform="translate(1919,1477.5) skewX(-12) scale(0.95,1)"><text x="0" y="0" font-size="43.5">Модель</text></g>
<g transform="translate(2266,1477.5) skewX(-12) scale(0.95,1)"><text x="-104.9" y="0" font-size="43.5">Тиса Элит</text></g>
<g transform="translate(1919,1536.9) skewX(-12) scale(0.95,1)"><text x="0" y="0" font-size="43.5">Длина</text></g>
<g transform="translate(2266,1536.9) skewX(-12) scale(0.95,1)"><text x="-63.3" y="0" font-size="43.5">8.30 м</text></g>
<g transform="translate(1919,1596.2) skewX(-12) scale(0.95,1)"><text x="0" y="0" font-size="43.5">Ширина</text></g>
<g transform="translate(2266,1596.2) skewX(-12) scale(0.95,1)"><text x="-63.3" y="0" font-size="43.5">4.25 м</text></g>
<g transform="translate(1919,1655.2) skewX(-12) scale(0.95,1)"><text x="0" y="0" font-size="43.5">Глубина</text></g>
<g transform="translate(2266,1655.2) skewX(-12) scale(0.95,1)"><text x="-133.9" y="0" font-size="43.5"> .05 м- .70 м</text><path transform="translate(-133.90,0) scale(0.02124,-0.02124)" d="M696,0 H515 V1237 L197,1010 V1180 L530,1409 H696 Z"/><path transform="translate(7.24,0) scale(0.02124,-0.02124)" d="M696,0 H515 V1237 L197,1010 V1180 L530,1409 H696 Z"/></g>
<g transform="translate(1919,1714.5) skewX(-12) scale(0.95,1)"><text x="0" y="0" font-size="43.5">Масштаб</text></g>
<g transform="translate(2266,1714.5) skewX(-12) scale(0.95,1)"><text x="-54.4" y="0" font-size="43.5">  : 50</text><path transform="translate(-54.42,0) scale(0.02124,-0.02124)" d="M696,0 H515 V1237 L197,1010 V1180 L530,1409 H696 Z"/></g>
<g transform="translate(2080,1240) scale(0.10474)">
<path d="M330,1368 C150,1200 90,950 160,720 C230,500 400,370 600,320" fill="none" stroke="#1e1e6e" stroke-width="18"/><path d="M200,620 C260,480 400,370 620,318 C500,360 330,450 200,620 Z" fill="#1e1e6e" stroke="#1e1e6e" stroke-width="14"/>
<path d="M230,560 C300,420 450,340 620,305 C760,280 880,268 950,262 C955,200 945,140 915,95 C1000,130 1070,220 1110,310 C1250,390 1380,520 1450,730 C1380,690 1300,650 1250,625 C1180,600 1100,570 1070,540 C1020,570 980,590 930,600 C980,560 1020,520 1040,490 C960,450 820,415 700,408 C600,404 530,410 500,420 C560,350 420,380 300,470 Z" fill="#1e1e6e"/>
<path d="M520,412 C650,350 820,330 960,345 C900,380 800,395 700,400 C620,402 560,406 520,412 Z" fill="#fff"/>
<path d="M940,470 L1440,720" fill="none" stroke="#fff" stroke-width="10"/>
<path d="M1180,340 C1330,440 1420,560 1445,700" fill="none" stroke="#1e1e6e" stroke-width="14"/>
<path d="M330,1368 C420,1280 560,1270 700,1320 C850,1380 1000,1520 1130,1520 C1280,1520 1400,1300 1510,900" fill="none" stroke="#1e1e6e" stroke-width="14"/>
<path d="M400,1385 C380,1330 450,1310 530,1325 C700,1355 880,1470 1050,1535 C1130,1562 1200,1560 1250,1545 C1180,1595 1060,1600 920,1545 C780,1490 640,1405 520,1410 C450,1412 410,1405 400,1385 Z" fill="#1e1e6e"/>
<text transform="translate(240,1180) scale(0.84,1)" style="font-family:'Liberation Serif';font-style:italic" font-size="700" fill="#1e1e6e" stroke="#1e1e6e" stroke-width="14">Delfy</text>
</g>
</svg></body></html>
